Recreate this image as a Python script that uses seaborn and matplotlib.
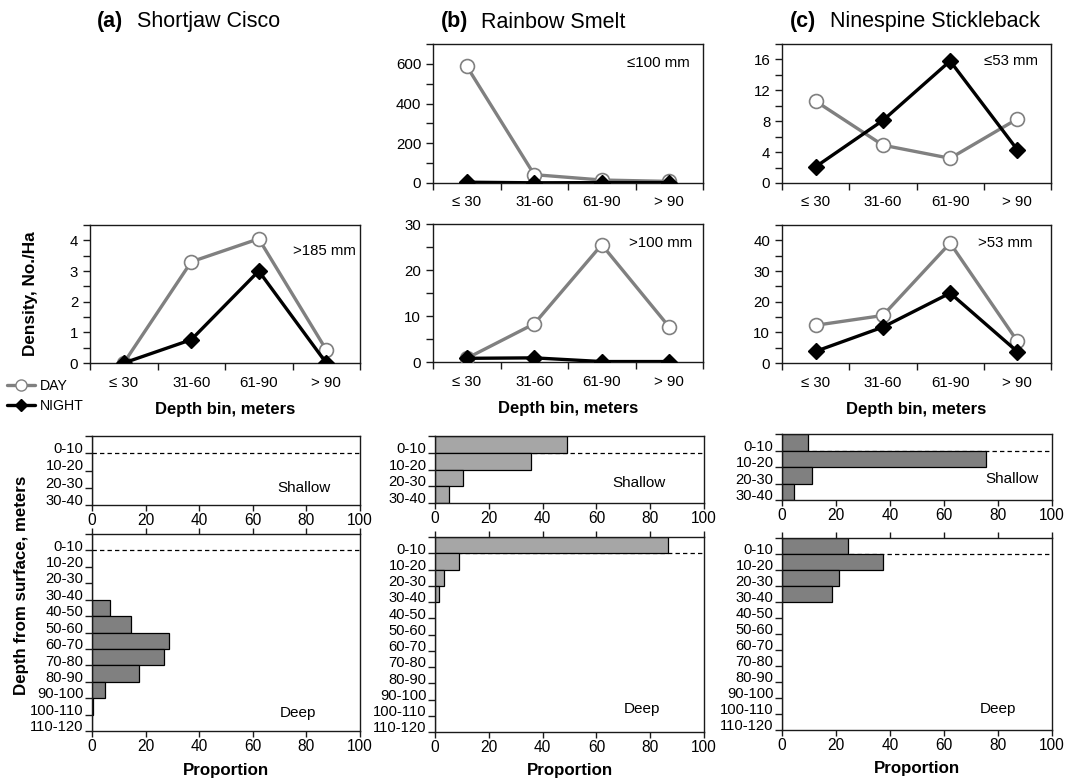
import numpy as np
import pandas as pd
import matplotlib
matplotlib.use("Agg")
import matplotlib.pyplot as plt
import seaborn as sns
from matplotlib.lines import Line2D

sns.set_style("ticks")
plt.rcParams['font.family'] = ['Liberation Sans', 'DejaVu Sans']
plt.rcParams['text.color'] = 'black'
plt.rcParams['axes.labelcolor'] = 'black'
plt.rcParams['xtick.color'] = 'black'
plt.rcParams['ytick.color'] = 'black'

# ---------------- data ----------------
depth_bins = ["≤ 30", "31-60", "61-90", "> 90"]

cisco_large_day = [0.0, 3.3, 4.05, 0.43]
cisco_large_night = [0.0, 0.76, 3.0, 0.0]

smelt_small_day = [588, 42, 15, 8]
smelt_small_night = [4, 1, 2, 2]
smelt_large_day = [0.8, 8.3, 25.5, 7.6]
smelt_large_night = [0.8, 0.9, 0.1, 0.1]

stickle_small_day = [10.6, 4.9, 3.2, 8.3]
stickle_small_night = [2.1, 8.1, 15.8, 4.3]
stickle_large_day = [12.3, 15.5, 39.1, 7.1]
stickle_large_night = [3.8, 11.7, 22.8, 3.7]

shallow_layers = ["0-10", "10-20", "20-30", "30-40"]
deep_layers = ["0-10", "10-20", "20-30", "30-40", "40-50", "50-60", "60-70",
               "70-80", "80-90", "90-100", "100-110", "110-120"]

cisco_shallow = [0, 0, 0, 0]
cisco_deep = [0, 0, 0, 0, 6.6, 14.7, 28.9, 26.9, 17.6, 5.0, 0.5, 0]
smelt_shallow = [49.0, 35.8, 10.4, 5.3]
smelt_deep = [86.8, 8.8, 3.5, 1.6, 0, 0, 0, 0, 0, 0, 0, 0]
stickle_shallow = [9.5, 75.4, 11.1, 4.4]
stickle_deep = [24.4, 37.4, 21.0, 18.6, 0, 0, 0, 0, 0, 0, 0, 0]

species_titles = [("(a)", "Shortjaw Cisco"), ("(b)", "Rainbow Smelt"), ("(c)", "Ninespine Stickleback")]

# ---------------- styling ----------------
W, H = 1065, 781
DAY_C = "#808080"
NIGHT_C = "black"
SPINE_C = "#1a1a1a"
TICK_FS = 10.8
BAR_TICK_FS = 10.6

fig = plt.figure(figsize=(W / 100, H / 100), dpi=100)
fig.patch.set_facecolor("white")


def rect(left, top, right, bottom):
    return [left / W, 1 - bottom / H, (right - left) / W, (bottom - top) / H]


def style_spines(ax):
    for s in ax.spines.values():
        s.set_visible(True)
        s.set_color(SPINE_C)
        s.set_linewidth(1.0)


def line_panel(ax, day, night, ymax, major, minor, note, note_xy, xlabel=True):
    pos = np.arange(len(depth_bins))
    sns.lineplot(x=pos, y=day, ax=ax, color=DAY_C, linewidth=2.4, marker="o",
                 markersize=10, markerfacecolor="white", markeredgecolor=DAY_C,
                 markeredgewidth=1.2, label="DAY", legend=False, zorder=3)
    sns.lineplot(x=pos, y=night, ax=ax, color=NIGHT_C, linewidth=2.4, marker="D",
                 markersize=8.5, markerfacecolor=NIGHT_C, markeredgecolor=NIGHT_C,
                 markeredgewidth=1.0, label="NIGHT", legend=False, zorder=4)
    ax.set_xlim(-0.5, len(depth_bins) - 0.5)
    ax.set_ylim(0, ymax)
    ax.set_xticks(pos)
    ax.set_xticklabels(depth_bins, fontsize=TICK_FS)
    ax.set_xticks(np.arange(len(depth_bins) + 1) - 0.5, minor=True)
    ax.tick_params(axis="x", which="major", length=0, pad=9)
    ax.tick_params(axis="x", which="minor", length=5, direction="out", width=1, color=SPINE_C)
    ax.set_yticks(np.arange(0, ymax + 1e-9, major))
    ax.set_yticks(np.arange(0, ymax + 1e-9, minor), minor=True)
    ax.tick_params(axis="y", which="both", length=5, direction="out", width=1,
                   color=SPINE_C, labelsize=TICK_FS)
    ax.set_ylabel("")
    ax.set_xlabel("")
    style_spines(ax)
    ax.text(note_xy[0], note_xy[1], note, transform=ax.transAxes, ha="right",
            va="center", fontsize=10.8)
    if xlabel:
        ax.set_xlabel("Depth bin, meters", fontsize=12, fontweight="bold")
        ax.xaxis.set_label_coords(0.5, -0.28)


def bar_panel(ax, layers, values, color, tag, tag_xy, top_ticks=False, xlabel=False):
    n = len(layers)
    sns.barplot(x=values, y=layers, orient="h", color=color, saturation=1,
                edgecolor="black", linewidth=0.9, width=1.0, ax=ax, zorder=2)
    ax.axhline(0.5, color="black", linestyle=(0, (3.5, 2.5)), linewidth=0.9, zorder=0.5)
    ax.set_xlim(0, 100)
    ax.set_ylim(n - 0.5, -0.5)
    ax.set_xticks(np.arange(0, 101, 20))
    ax.tick_params(axis="x", which="major", length=4, direction="out", width=1,
                   color=SPINE_C, labelsize=TICK_FS + 0.4, pad=2, top=top_ticks)
    ax.set_yticks(np.arange(n + 1) - 0.5)
    ax.set_yticklabels([""] * (n + 1))
    ax.set_yticks(np.arange(n) + 0.18, minor=True)
    ax.set_yticklabels(layers, minor=True, fontsize=BAR_TICK_FS)
    ax.tick_params(axis="y", which="major", length=5, direction="out", width=1, color=SPINE_C)
    ax.tick_params(axis="y", which="minor", length=0, pad=6)
    ax.set_ylabel("")
    ax.set_xlabel("")
    style_spines(ax)
    ax.text(tag_xy[0], tag_xy[1], tag, transform=ax.transAxes, ha="center",
            va="center", fontsize=11)
    if xlabel:
        ax.set_xlabel("Proportion", fontsize=12.2, fontweight="bold")
        ax.xaxis.set_label_coords(0.5, -0.16)


# ---------------- line panels ----------------
ax_a2 = fig.add_axes(rect(90, 225, 360, 363))
line_panel(ax_a2, cisco_large_day, cisco_large_night, 4.5, 1, 0.5, ">185 mm", (0.985, 0.81))
ax_a2.set_ylabel("Density, No./Ha", fontsize=12.3, fontweight="bold")
ax_a2.yaxis.set_label_coords((38 - 90) / 270, 0.5)

ax_b1 = fig.add_axes(rect(433, 44, 703, 183))
line_panel(ax_b1, smelt_small_day, smelt_small_night, 700, 200, 100, "≤100 mm", (0.95, 0.86), xlabel=False)
ax_b2 = fig.add_axes(rect(433, 224, 703, 362))
line_panel(ax_b2, smelt_large_day, smelt_large_night, 30, 10, 5, ">100 mm", (0.96, 0.86))

ax_c1 = fig.add_axes(rect(782, 44, 1051, 183))
line_panel(ax_c1, stickle_small_day, stickle_small_night, 18, 4, 2, "≤53 mm", (0.95, 0.88), xlabel=False)
ax_c2 = fig.add_axes(rect(782, 225, 1051, 363))
line_panel(ax_c2, stickle_large_day, stickle_large_night, 45, 10, 5, ">53 mm", (0.93, 0.87))

# ---------------- bar panels ----------------
ax_a3 = fig.add_axes(rect(92, 436, 360, 505))
bar_panel(ax_a3, shallow_layers, cisco_shallow, "#808080", "Shallow", (0.79, 0.25))
ax_a4 = fig.add_axes(rect(92, 534, 360, 731))
bar_panel(ax_a4, deep_layers, cisco_deep, "#808080", "Deep", (0.77, 0.09), top_ticks=True, xlabel=True)

ax_b3 = fig.add_axes(rect(435, 436, 704, 503))
bar_panel(ax_b3, shallow_layers, smelt_shallow, "#a6a6a6", "Shallow", (0.76, 0.30))
ax_b4 = fig.add_axes(rect(435, 537, 704, 732))
bar_panel(ax_b4, deep_layers, smelt_deep, "#a6a6a6", "Deep", (0.77, 0.12), top_ticks=True, xlabel=True)

ax_c3 = fig.add_axes(rect(782, 434, 1052, 500))
bar_panel(ax_c3, shallow_layers, stickle_shallow, "#808080", "Shallow", (0.85, 0.32))
ax_c4 = fig.add_axes(rect(782, 538, 1052, 730))
bar_panel(ax_c4, deep_layers, stickle_deep, "#808080", "Deep", (0.80, 0.11), top_ticks=True, xlabel=True)

fig.text(22 / W, 1 - 585 / H, "Depth from surface, meters", rotation=90, ha="center",
         va="center", fontsize=12.2, fontweight="bold")

# ---------------- titles ----------------
title_x = [(97, 137), (441, 481), (790, 830)]
for (tag, name), (x1, x2) in zip(species_titles, title_x):
    fig.text(x1 / W, 1 - 22 / H, tag, fontsize=15.5, fontweight="bold", ha="left", va="center")
    fig.text(x2 / W, 1 - 22 / H, name, fontsize=15.5, ha="left", va="center")

# ---------------- legend ----------------
handles = [Line2D([], [], color=DAY_C, lw=2.4, marker="o", markersize=8,
                  markerfacecolor="white", markeredgecolor=DAY_C),
           Line2D([], [], color=NIGHT_C, lw=2.4, marker="D", markersize=6.5,
                  markerfacecolor=NIGHT_C)]
fig.legend(handles, ["DAY", "NIGHT"], loc="upper left", bbox_to_anchor=(0.004, 1 - 376 / H),
           frameon=False, fontsize=10.2, handlelength=2.0, handletextpad=0.3,
           labelspacing=0.45, borderaxespad=0, borderpad=0.2)

fig.savefig("out.png", dpi=100, facecolor="white")
